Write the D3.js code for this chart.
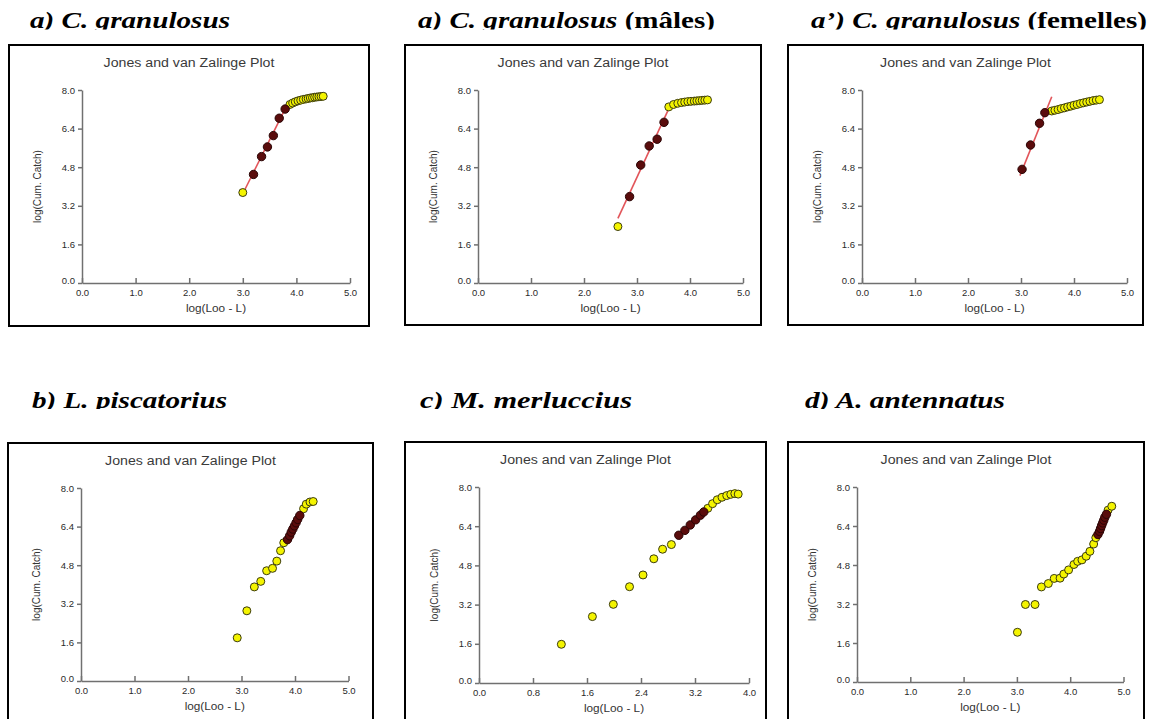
<!DOCTYPE html>
<html><head><meta charset="utf-8">
<script src="https://cdn.jsdelivr.net/npm/d3@7"></script>
<style>body{margin:0;background:#fff}</style>
</head><body>
<svg id="c" width="1151" height="719"></svg>
<script>
// ---------- data ----------
const xTicks5 = [0, 1, 2, 3, 4, 5];
const xTicks4 = [0, 0.8, 1.6, 2.4, 3.2, 4.0];
const yTicks = [0, 1.6, 3.2, 4.8, 6.4, 8.0];
const plotTitle = "Jones and van Zalinge Plot";
const xLabel = "log(Loo - L)";
const yLabel = "log(Cum. Catch)";

const title1 = [["a) C. granulosus", true]];
const title2 = [["a) C. granulosus ", true], ["(mâles)", false]];
const title3 = [["a’) C. granulosus ", true], ["(femelles)", false]];
const title4 = [["b) L. piscatorius", true]];
const title5 = [["c) M. merluccius", true]];
const title6 = [["d) A. antennatus", true]];

const p1Yellow = [[3.00,3.75],[3.88,7.40],[3.93,7.46],[3.98,7.51],[4.03,7.55],[4.08,7.58],[4.13,7.61],[4.18,7.63],[4.22,7.65],[4.26,7.67],[4.30,7.68],[4.34,7.70],[4.38,7.71],[4.42,7.72],[4.46,7.73],[4.50,7.74]];
const p1Dark = [[3.20,4.50],[3.35,5.24],[3.46,5.64],[3.57,6.11],[3.68,6.83],[3.79,7.21]];
const p1Line = [[3.00,3.70],[3.82,7.35]];

const p2Yellow = [[2.64,2.34],[3.60,7.30],[3.69,7.40],[3.77,7.45],[3.84,7.48],[3.90,7.50],[3.96,7.52],[4.02,7.53],[4.08,7.54],[4.13,7.55],[4.18,7.56],[4.23,7.57],[4.28,7.58],[4.33,7.59]];
const p2Dark = [[2.86,3.58],[3.07,4.89],[3.23,5.68],[3.38,5.96],[3.51,6.66]];
const p2Line = [[2.64,2.68],[3.62,7.32]];

const p3Yellow = [[3.58,7.13],[3.64,7.16],[3.70,7.19],[3.76,7.23],[3.82,7.26],[3.88,7.30],[3.94,7.33],[4.00,7.37],[4.06,7.40],[4.12,7.44],[4.18,7.47],[4.24,7.50],[4.30,7.53],[4.36,7.56],[4.42,7.58],[4.48,7.60]];
const p3Dark = [[3.02,4.71],[3.18,5.72],[3.35,6.62],[3.45,7.06]];
const p3Line = [[2.98,4.45],[3.58,7.72]];

const p4Yellow = [[2.92,1.79],[3.10,2.91],[3.24,3.90],[3.36,4.13],[3.47,4.57],[3.58,4.67],[3.66,4.97],[3.73,5.40],[3.79,5.73],[4.16,7.14],[4.21,7.33],[4.28,7.42],[4.34,7.44]];
const p4Dark = [[3.86,5.86],[3.90,6.02],[3.93,6.17],[3.96,6.30],[3.99,6.43],[4.02,6.56],[4.05,6.70],[4.09,6.86]];
const p4Line = [];

const p5Yellow = [[1.22,1.58],[1.68,2.71],[1.99,3.21],[2.23,3.93],[2.43,4.41],[2.59,5.07],[2.72,5.46],[2.85,5.65],[3.39,7.13],[3.46,7.32],[3.53,7.48],[3.60,7.58],[3.67,7.65],[3.73,7.70],[3.79,7.73],[3.84,7.71]];
const p5Dark = [[2.96,6.03],[3.05,6.23],[3.13,6.45],[3.21,6.66],[3.28,6.85],[3.33,6.98]];
const p5Line = [];

const p6Yellow = [[3.01,2.04],[3.16,3.18],[3.34,3.18],[3.46,3.90],[3.59,4.04],[3.70,4.25],[3.81,4.26],[3.88,4.43],[3.97,4.60],[4.07,4.82],[4.14,4.95],[4.22,5.01],[4.30,5.16],[4.37,5.36],[4.44,5.66],[4.48,5.92],[4.71,7.05],[4.78,7.21]];
const p6Dark = [[4.52,6.05],[4.55,6.18],[4.57,6.30],[4.59,6.42],[4.61,6.53],[4.63,6.64],[4.65,6.76],[4.68,6.88]];
const p6Line = [];

// ---------- layout ----------
const panels = [
  {title:title1, tx:30,  ty:28,    tw:200, clipY:[0,29.5],   frame:[9,45,360,281],   xr:[82,350],   yr:[283,90],  xmax:5, xt:xTicks5, yellow:p1Yellow, dark:p1Dark, line:p1Line},
  {title:title2, tx:418, ty:28,    tw:297, clipY:[0,29.5],   frame:[405,45,356,280], xr:[478,743],  yr:[283,90],  xmax:5, xt:xTicks5, yellow:p2Yellow, dark:p2Dark, line:p2Line},
  {title:title3, tx:811, ty:28,    tw:336, clipY:[0,29.5],   frame:[788,45,355,280], xr:[862,1127], yr:[283,90],  xmax:5, xt:xTicks5, yellow:p3Yellow, dark:p3Dark, line:p3Line},
  {title:title4, tx:32,  ty:407.5, tw:195, clipY:[380,409],  frame:[8,443,365,290],  xr:[81,348.5], yr:[681,488], xmax:5, xt:xTicks5, yellow:p4Yellow, dark:p4Dark, line:p4Line},
  {title:title5, tx:420, ty:407.5, tw:212, clipY:[380,409],  frame:[405,442,361,290],xr:[479,749],  yr:[683,487], xmax:4, xt:xTicks4, yellow:p5Yellow, dark:p5Dark, line:p5Line},
  {title:title6, tx:805, ty:407.5, tw:200, clipY:[380,409],  frame:[788,442,356,290],xr:[857,1123.5],yr:[682,487],xmax:5, xt:xTicks5, yellow:p6Yellow, dark:p6Dark, line:p6Line}
];

const svg = d3.select('#c');
const defs = svg.append('defs');
const fmt = d3.format('.1f');
const SANS = "'Liberation Sans', Arial, sans-serif";
const SERIF = "'Times New Roman', 'Liberation Serif', Times, serif";

function stretch(sel, f) {
  sel.each(function(){
    const w = this.getComputedTextLength();
    d3.select(this).attr('textLength', w * f).attr('lengthAdjust', 'spacingAndGlyphs');
  });
}

panels.forEach((p, i) => {
  // heading
  defs.append('clipPath').attr('id', 'tc' + i).append('rect')
    .attr('x', 0).attr('y', p.clipY[0]).attr('width', 1151).attr('height', p.clipY[1] - p.clipY[0]);
  const t = svg.append('text').attr('clip-path', `url(#tc${i})`)
    .attr('x', p.tx).attr('y', p.ty)
    .style('font-family', SERIF)
    .attr('font-weight', 'bold').attr('font-size', 24).attr('fill', '#000')
    .attr('textLength', p.tw).attr('lengthAdjust', 'spacingAndGlyphs');
  p.title.forEach(([s, it]) => t.append('tspan').style('font-style', it ? 'italic' : 'normal').text(s));

  // frame
  svg.append('rect').attr('x', p.frame[0]).attr('y', p.frame[1])
    .attr('width', p.frame[2]).attr('height', p.frame[3])
    .attr('fill', '#fff').attr('stroke', '#000').attr('stroke-width', 2);

  const x = d3.scaleLinear().domain([0, p.xmax]).range(p.xr);
  const y = d3.scaleLinear().domain([0, 8]).range(p.yr);
  const g = svg.append('g');

  // plot title
  g.append('text').attr('x', p.frame[0] + p.frame[2] / 2).attr('y', p.yr[1] - 23)
    .attr('text-anchor', 'middle').style('font-family', SANS).attr('font-size', 12)
    .attr('fill', '#3a3a3a').text(plotTitle).call(stretch, 1.18);

  // axes
  const ya = d3.axisLeft(y).tickValues(yTicks).tickFormat(fmt).tickSizeInner(4).tickSizeOuter(0).tickPadding(3);
  const xa = d3.axisBottom(x).tickValues(p.xt).tickFormat(fmt).tickSizeInner(-5).tickSizeOuter(0).tickPadding(6);
  const gy = g.append('g').attr('transform', `translate(${p.xr[0]},0)`).call(ya);
  const gx = g.append('g').attr('transform', `translate(0,${p.yr[0]})`).call(xa);
  [gx, gy].forEach(a => {
    a.attr('font-family', SANS).attr('font-size', 9.5);
    a.selectAll('path,line').attr('stroke', '#707070').attr('stroke-width', 1.5);
    a.selectAll('text').attr('fill', '#2a2a2a');
  });
  gy.selectAll('.tick text').filter(d => d === 0).attr('dy', '0.1em');

  // axis labels
  g.append('text').attr('x', (p.xr[0] + p.xr[1]) / 2).attr('y', p.yr[0] + 29)
    .attr('text-anchor', 'middle').style('font-family', SANS).attr('font-size', 10.5)
    .attr('fill', '#333').text(xLabel).call(stretch, 1.12);
  g.append('text').attr('transform', `translate(${p.xr[0] - 41},${(p.yr[0] + p.yr[1]) / 2}) rotate(-90)`)
    .attr('text-anchor', 'middle').style('font-family', SANS).attr('font-size', 10)
    .attr('fill', '#333').text(yLabel);

  // regression line
  if (p.line.length) {
    g.append('path').datum(p.line)
      .attr('d', d3.line().x(d => x(d[0])).y(d => y(d[1])))
      .attr('fill', 'none').attr('stroke', '#e2555a').attr('stroke-width', 1.6);
  }
  // points
  g.append('g').selectAll('circle').data(p.yellow).join('circle')
    .attr('cx', d => x(d[0])).attr('cy', d => y(d[1])).attr('r', 4)
    .attr('fill', '#f4f400').attr('stroke', '#3b3b10').attr('stroke-width', 1);
  g.append('g').selectAll('circle').data(p.dark).join('circle')
    .attr('cx', d => x(d[0])).attr('cy', d => y(d[1])).attr('r', 4.2)
    .attr('fill', '#5a0c0c').attr('stroke', '#2a0505').attr('stroke-width', 1);
});
</script>
</body></html>
